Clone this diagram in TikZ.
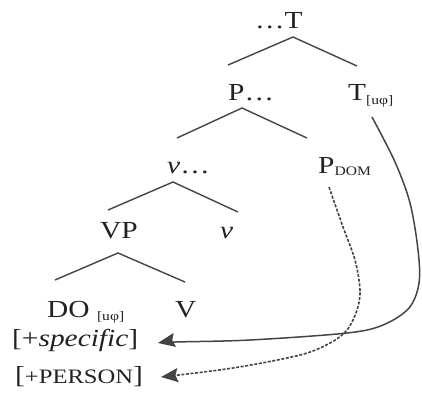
\documentclass[tikz,border=0pt]{standalone}
\usepackage{fontspec}
\setmainfont[FakeStretch=1.2]{Liberation Serif}
\usetikzlibrary{arrows.meta}
\definecolor{txt}{HTML}{222222}
\definecolor{ln}{HTML}{444444}
\newcommand\mysub[2]{\raisebox{-#1}{\fontsize{13}{13}\selectfont #2}}
\begin{document}
\begin{tikzpicture}[x=1pt,y=-1pt,
  lab/.style={inner sep=0pt, anchor=base west, text=txt, font=\fontsize{24.5}{27}\selectfont},
  br/.style={draw=ln, line width=1.4pt},
  arr/.style={draw=ln, line width=1.5pt, -{Stealth[length=17pt,width=14pt,inset=2.5pt]}},
  dsh/.style={line width=1.6pt, dash pattern=on 3pt off 1.6pt}]
\useasboundingbox (0,0) rectangle (422,392);
% labels
\node[lab] (top) at (255,28) {…T};
\node[lab] (P) at (228,100) {P…};
\node[lab] (Tu) at (348,100) {T\mysub{4pt}{[uφ]}};
\node[lab] (v) at (167,173) {\textit{v}…};
\node[lab] (Pdom) at (318,173) {P\mysub{2.5pt}{DOM}};
\node[lab] (VP) at (100,238) {VP};
\node[lab] (vh) at (220,238) {\textit{v}};
\node[lab] (DO) at (47,317) {DO \mysub{3pt}{[uφ]}};
\node[lab] (V) at (175,317) {V};
\node[lab] (spec) at (12,346) {[+\textit{specific}]};
\node[lab] (pers) at (15,383) {[{\fontsize{20.5}{22}\selectfont +PERSON}]};
% tree branches
\coordinate (a1) at (293,37);  \coordinate (a1l) at (228,65);  \coordinate (a1r) at (357,66);
\coordinate (a2) at (242,108); \coordinate (a2l) at (177,138); \coordinate (a2r) at (307,138);
\coordinate (a3) at (173,182); \coordinate (a3l) at (108,210); \coordinate (a3r) at (238,212);
\coordinate (a4) at (118,253); \coordinate (a4l) at (55,280);  \coordinate (a4r) at (185,282);
\draw[br] (a1l) -- (a1) -- (a1r);
\draw[br] (a2l) -- (a2) -- (a2r);
\draw[br] (a3l) -- (a3) -- (a3r);
\draw[br] (a4l) -- (a4) -- (a4r);
% arrows
\coordinate (s0) at (372,117);
\coordinate (s1) at (158,343);
\coordinate (d0) at (329,187);
\coordinate (d1) at (161,377);
\draw[arr] plot[smooth, tension=0.55] coordinates {(s0) (395,162) (410,203) (418,250) (419,283) (409,308) (383,325) (347,333) (250,340) (175,342) (s1)};
\draw[arr, dsh] plot[smooth, tension=0.55] coordinates {(d0) (343,227) (355,260) (360,290) (357,310) (347,330) (330,343) (300,355) (233,368) (d1)};
\end{tikzpicture}
\end{document}
